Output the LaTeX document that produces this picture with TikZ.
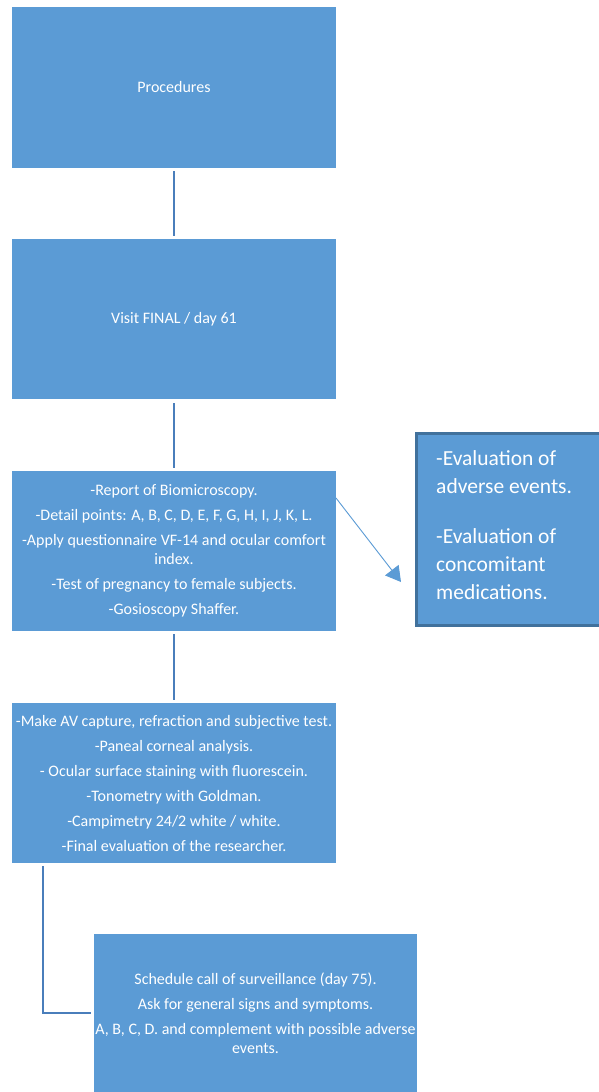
\documentclass[tikz,border=0pt]{standalone}
\usepackage{fontspec}
\setmainfont{Carlito}
\usetikzlibrary{arrows.meta}
\definecolor{boxblue}{HTML}{5B9BD5}
\definecolor{lineblue}{HTML}{4A7EBB}
\definecolor{edgeblue}{HTML}{41719C}
\begin{document}
\begin{tikzpicture}[x=1pt,y=-1pt,
  box/.style={fill=boxblue, draw=none, text=white, align=center, inner sep=0pt,
    font=\fontsize{16}{19.5}\selectfont},
  conn/.style={draw=lineblue, line width=2pt},
  sidebox/.style={fill=boxblue, draw=edgeblue, line width=2.5pt},
  arr/.style={draw=boxblue, line width=0.9pt, -{Triangle[length=15pt,width=17pt]}}]
\useasboundingbox (0,0) rectangle (598,1092);
\fill[white] (0,0) rectangle (598,1092);

\node[box, minimum width=324pt, minimum height=161pt] (b1) at (174,87.5) {Procedures};
\node[box, minimum width=324pt, minimum height=160pt] (b2) at (174,319) {Visit FINAL / day 61};
\node[box, minimum width=324pt, minimum height=160pt] (b3) at (174,551) {%
-Report of Biomicroscopy.\\[5.5pt]
-Detail points: A, B, C, D, E, F, G, H, I, J, K, L.\\[5.5pt]
-Apply questionnaire VF-14 and ocular comfort\\
index.\\[5.5pt]
-Test of pregnancy to female subjects.\\[5.5pt]
-Gosioscopy Shaffer.};
\node[box, minimum width=324pt, minimum height=160pt] (b4) at (174,783) {%
-Make AV capture, refraction and subjective test.\\[5.5pt]
-Paneal corneal analysis.\\[5.5pt]
- Ocular surface staining with fluorescein.\\[5.5pt]
-Tonometry with Goldman.\\[5.5pt]
-Campimetry 24/2 white / white.\\[5.5pt]
-Final evaluation of the researcher.};
\node[box, minimum width=323pt, minimum height=158pt] (b5) at (255.5,1013) {%
Schedule call of surveillance (day 75).\\[5.5pt]
Ask for general signs and symptoms.\\[5.5pt]
A, B, C, D. and complement with possible adverse\\
events.};

\node[sidebox, minimum width=200pt, minimum height=192pt, anchor=north west] (side) at (415,432) {};
\node[text=white, align=left, inner sep=0pt, anchor=north west,
  font=\fontsize{21.5}{28}\selectfont] (sidetext) at (436,450) {%
-Evaluation of\\
adverse events.\\[22pt]
-Evaluation of\\
concomitant\\
medications.};

\draw[conn, shorten <=3pt, shorten >=3pt] (b1.south) -- (b2.north);
\draw[conn, shorten <=4pt, shorten >=3pt] (b2.south) -- (b3.north);
\draw[conn, shorten <=3pt, shorten >=3pt] (b3.south) -- (b4.north);
\coordinate (elb) at (43,866);
\draw[conn] (elb) |- ([xshift=-3pt]b5.west);

\coordinate (arrS) at (336,498);
\coordinate (arrE) at (401,582);
\draw[arr] (arrS) -- (arrE);
\end{tikzpicture}
\end{document}
